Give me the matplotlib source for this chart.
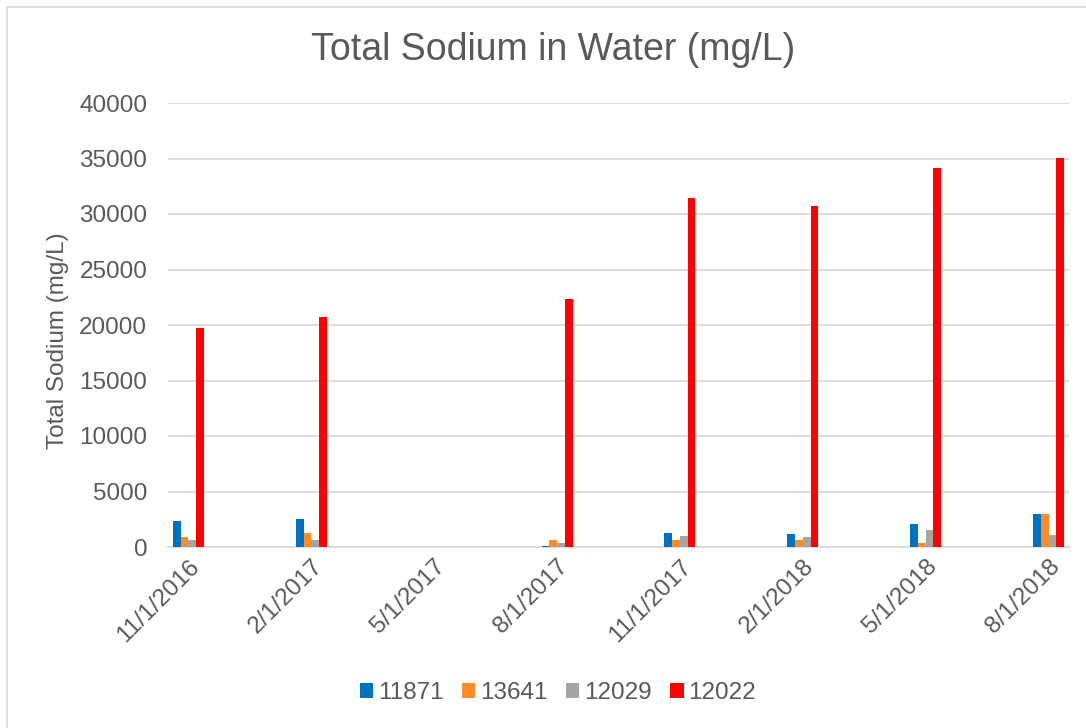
import matplotlib
matplotlib.use("Agg")
import matplotlib.pyplot as plt
from matplotlib.patches import Rectangle, Patch
import numpy as np

plt.rcParams['font.family'] = ['Liberation Sans', 'DejaVu Sans']

dates = ["11/1/2016", "2/1/2017", "5/1/2017", "8/1/2017",
         "11/1/2017", "2/1/2018", "5/1/2018", "8/1/2018"]
month_index = [0, 3, 6, 9, 12, 15, 18, 21]  # months since Nov 2016
series_names = ["11871", "13641", "12029", "12022"]
s11871 = [2380, 2560, np.nan, 130, 1300, 1170, 2070, 2970]
s13641 = [870, 1230, np.nan, 600, 670, 630, 400, 2970]
s12029 = [670, 600, np.nan, 360, 960, 900, 1570, 1050]
s12022 = [19700, 20700, np.nan, 22350, 31450, 30750, 34150, 35050]
colors = ["#0070C0", "#FF8C26", "#A5A5A5", "#FF0000"]

W, H = 1086, 728
fig = plt.figure(figsize=(W/100, H/100), dpi=100)
fig.patches.append(Rectangle((7/W, -0.1), 1.2, (728-7)/H + 0.1, transform=fig.transFigure,
                             fill=False, edgecolor="#D9D9D9", linewidth=1.2))

ax = fig.add_axes([168/W, 1-547/H, (1069-168)/W, (547-103)/H])
bw = 0.19
x = np.array(month_index, dtype=float)
for i, (vals, c, name) in enumerate(zip([s11871, s13641, s12029, s12022], colors, series_names)):
    ax.bar(x + (i-1.5)*bw, vals, width=bw, color=c, label=name, zorder=3)

ax.set_xlim(-0.5, 21.5)
ax.set_ylim(0, 40000)
ax.set_yticks(np.arange(0, 40001, 5000))
ax.set_yticklabels([str(v) for v in range(0, 40001, 5000)])
ax.yaxis.grid(True, color="#D9D9D9", linewidth=1.3, zorder=0)
ax.set_axisbelow(True)
for s in ["top", "right", "left"]:
    ax.spines[s].set_visible(False)
ax.spines["bottom"].set_color("#D9D9D9")
ax.spines["bottom"].set_linewidth(1.3)
ax.tick_params(axis='y', length=0, pad=15, labelsize=17.5, labelcolor="#595959")
ax.tick_params(axis='x', length=0, pad=6, labelsize=17.5, labelcolor="#595959")
ax.set_xticks(x)
ax.set_xticklabels(dates, rotation=45, ha='right', va='top', rotation_mode='anchor')

ax.set_ylabel("Total Sodium (mg/L)", fontsize=17.5, color="#595959")
ax.yaxis.set_label_coords((69-168)/(1069-168), (547-341)/(547-103))
fig.text(553/W, 1-50/H, "Total Sodium in Water (mg/L)", fontsize=27, color="#595959",
         ha='center', va='center')

handles = [Patch(facecolor=c, edgecolor='none') for c in colors]
fig.legend(handles, series_names, loc='center', bbox_to_anchor=(558/W, 1-693/H),
           ncol=4, frameon=False, fontsize=17.5, labelcolor="#595959",
           handlelength=0.55, handleheight=0.55, handletextpad=0.2, columnspacing=0.75)

fig.savefig("out.png", dpi=100)
